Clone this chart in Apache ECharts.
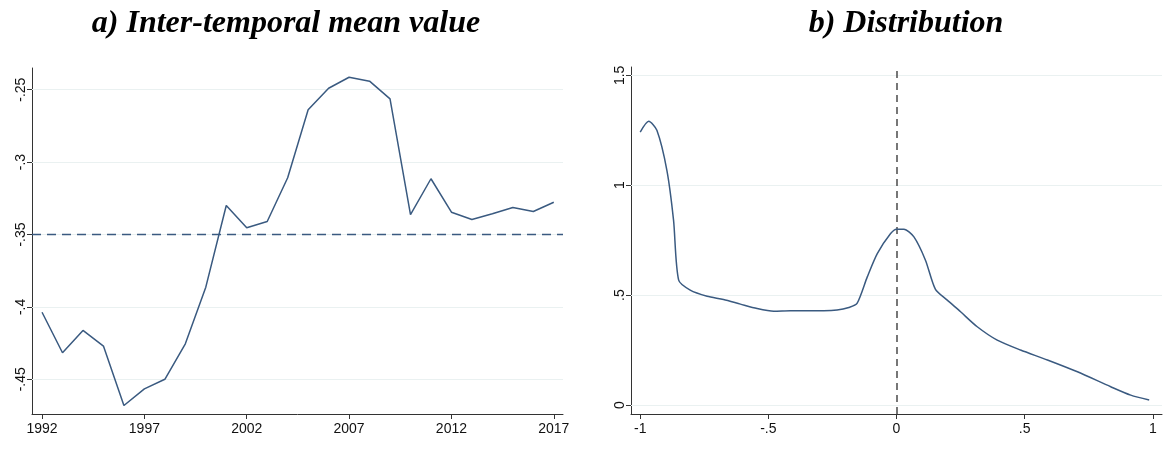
<!DOCTYPE html>
<html>
<head>
<meta charset="utf-8">
<script src="https://cdn.jsdelivr.net/npm/echarts@6/dist/echarts.min.js"></script>
<style>
  html, body { margin: 0; padding: 0; background: #fff; }
  #chart { width: 1169px; height: 452px; }
</style>
</head>
<body>
<div id="chart"></div>
<script>
// Panel a: yearly mean value
const years = [1992, 1993, 1994, 1995, 1996, 1997, 1998, 1999, 2000, 2001, 2002, 2003, 2004,
  2005, 2006, 2007, 2008, 2009, 2010, 2011, 2012, 2013, 2014, 2015, 2016, 2017];
const meanValue = [-0.4037, -0.4317, -0.4163, -0.4271, -0.4681, -0.4566, -0.4500, -0.4255, -0.3864,
  -0.3300, -0.3454, -0.3410, -0.3108, -0.2639, -0.2490, -0.2414, -0.2441, -0.2563, -0.3362,
  -0.3115, -0.3346, -0.3396, -0.3357, -0.3314, -0.3341, -0.3277];
const meanReference = -0.35;
const yearTicks = [1992, 1997, 2002, 2007, 2012, 2017];
const meanTicks = [-0.45, -0.4, -0.35, -0.3, -0.25];

// Panel b: density curve
const densityX = [-1.000, -0.967, -0.935, -0.896, -0.870, -0.850, -0.805, -0.739, -0.675, -0.609,
  -0.544, -0.479, -0.414, -0.349, -0.284, -0.232, -0.186, -0.154, -0.114, -0.075, -0.023,
  0.000, 0.029, 0.068, 0.113, 0.152, 0.198, 0.250, 0.315, 0.393, 0.484, 0.589, 0.706,
  0.836, 0.914, 0.986];
const densityY = [1.242, 1.291, 1.250, 1.068, 0.841, 0.568, 0.523, 0.495, 0.480, 0.459,
  0.439, 0.427, 0.429, 0.429, 0.429, 0.432, 0.444, 0.462, 0.583, 0.689, 0.780,
  0.800, 0.800, 0.765, 0.659, 0.526, 0.477, 0.424, 0.356, 0.295, 0.250, 0.205, 0.151,
  0.083, 0.045, 0.023];
const densityRef = 0;
const densXTicks = [-1, -0.5, 0, 0.5, 1];
const densYTicks = [0, 0.5, 1, 1.5];

// Stata-style number labels: drop the leading zero (-.25, .5)
function fmt(v) {
  const r = Math.round(v * 1000) / 1000;
  return String(r).replace(/^0\./, '.').replace(/^-0\./, '-.');
}

const lineColor = '#3a5a80';
const gridColor = '#eaf1f1';
const axisColor = '#333';
const tickFont = { fontFamily: 'Liberation Sans, Arial, sans-serif', fontSize: 14, color: '#111' };
const titleFont = { fontFamily: 'Liberation Serif, Times New Roman, serif', fontStyle: 'italic',
  fontWeight: 'bold', fontSize: 32, color: '#000' };

const chart = echarts.init(document.getElementById('chart'), null, { renderer: 'canvas' });

function gridLines(values, axisKey) {
  return values.map(v => ({ [axisKey]: v }));
}

function valueAxis(gridIndex, min, max, ticks, extra) {
  return Object.assign({
    gridIndex, type: 'value', min, max,
    axisLine: { show: true, onZero: false, lineStyle: { color: axisColor, width: 1 } },
    axisTick: { show: true, length: 5, customValues: ticks, lineStyle: { color: axisColor } },
    splitLine: { show: false }
  }, extra);
}

chart.setOption({
  animation: false,
  backgroundColor: '#fff',
  title: [
    { text: 'a) Inter-temporal mean value', left: 281, top: 3, textAlign: 'center', textStyle: titleFont },
    { text: 'b) Distribution', left: 901, top: 3, textAlign: 'center', textStyle: titleFont }
  ],
  grid: [
    { left: 32, top: 68, width: 531, height: 346 },
    { left: 631, top: 67, width: 531, height: 347 }
  ],
  xAxis: [
    valueAxis(0, 1991.51, 2017.45, yearTicks,
      { axisLabel: { customValues: yearTicks, margin: 8, ...tickFont, formatter: v => String(v) } }),
    valueAxis(1, -1.036, 1.036, densXTicks,
      { axisLabel: { customValues: densXTicks, margin: 8, ...tickFont, formatter: v => fmt(v) } })
  ],
  yAxis: [
    valueAxis(0, -0.474, -0.235, meanTicks,
      { axisLabel: { customValues: meanTicks, rotate: 90, margin: 4, ...tickFont, formatter: v => fmt(v) } }),
    valueAxis(1, -0.041, 1.538, densYTicks,
      { axisLabel: { customValues: densYTicks, rotate: 90, margin: 4, ...tickFont, formatter: v => fmt(v) } })
  ],
  series: [
    { // horizontal grid lines, panel a
      type: 'line', xAxisIndex: 0, yAxisIndex: 0, data: [], silent: true, zlevel: 0, z: 1,
      markLine: { silent: true, symbol: 'none', label: { show: false },
        lineStyle: { color: gridColor, type: 'solid', width: 1.2 },
        data: gridLines(meanTicks, 'yAxis') } },
    { // horizontal grid lines, panel b
      type: 'line', xAxisIndex: 1, yAxisIndex: 1, data: [], silent: true, zlevel: 0, z: 1,
      markLine: { silent: true, symbol: 'none', label: { show: false },
        lineStyle: { color: gridColor, type: 'solid', width: 1.2 },
        data: gridLines(densYTicks, 'yAxis') } },
    { type: 'line', xAxisIndex: 0, yAxisIndex: 0, zlevel: 1, z: 3,
      data: years.map((y, i) => [y, meanValue[i]]),
      showSymbol: false, lineStyle: { color: lineColor, width: 1.5 },
      markLine: { silent: true, symbol: 'none', label: { show: false },
        lineStyle: { color: lineColor, type: [9, 6], width: 1.4 },
        data: [{ yAxis: meanReference }] } },
    { type: 'line', xAxisIndex: 1, yAxisIndex: 1, zlevel: 1, z: 3,
      data: densityX.map((x, i) => [x, densityY[i]]),
      smooth: 0.25, showSymbol: false, lineStyle: { color: lineColor, width: 1.5 },
      markLine: { silent: true, symbol: 'none', label: { show: false },
        lineStyle: { color: '#555', type: [7, 5], width: 1.6 },
        data: [{ xAxis: densityRef }] } }
  ]
});
</script>
</body>
</html>
